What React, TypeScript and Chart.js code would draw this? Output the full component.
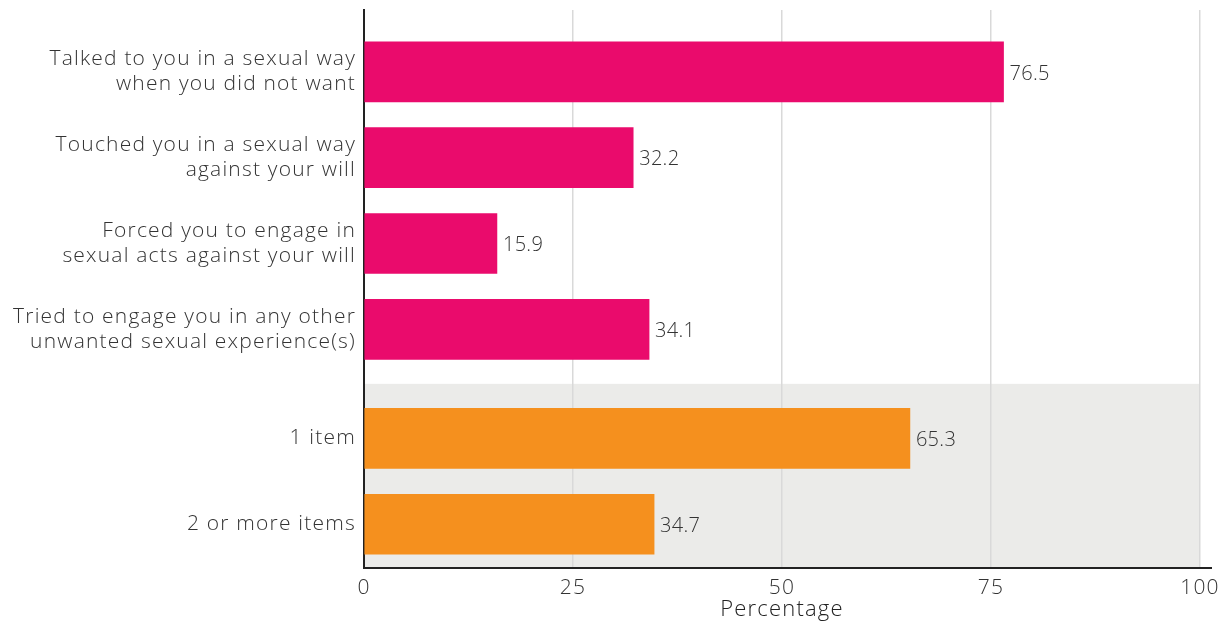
import { useEffect, useRef } from "react";
import { Chart, registerables } from "chart.js";

Chart.register(...registerables);

const categories: string[][] = [
  ["Talked to you in a sexual way", "when you did not want"],
  ["Touched you in a sexual way", "against your will"],
  ["Forced you to engage in", "sexual acts against your will"],
  ["Tried to engage you in any other", "unwanted sexual experience(s)"],
  ["1 item"],
  ["2 or more items"],
];
const values = [76.5, 32.2, 15.9, 34.1, 65.3, 34.7];
const groups = [0, 0, 0, 0, 1, 1];
const groupColors = ["#ea0b6c", "#f5901e"];
const xTicks = [0, 25, 50, 75, 100];
const xTitle = "Percentage";
const GROUP_GAP = 0.27;
const positions = categories.map((_, i) => i + groups[i] * GROUP_GAP);

const FONT = "'Open Sans', sans-serif";
const TEXT = "#333333";

export default function App() {
  const ref = useRef<HTMLCanvasElement | null>(null);

  useEffect(() => {
    if (!ref.current) return;

    const bandPlugin = {
      id: "band",
      beforeDraw(chart: any) {
        const { ctx, chartArea, scales } = chart;
        const firstIdx = groups.indexOf(1);
        const yTop = scales.y.getPixelForValue((positions[firstIdx - 1] + positions[firstIdx]) / 2);
        ctx.save();
        ctx.fillStyle = "#ebebe9";
        ctx.fillRect(chartArea.left, yTop, chartArea.right - chartArea.left, chartArea.bottom - yTop);
        ctx.restore();
        (ctx as any).letterSpacing = "1.2px";
      },
    };

    const labelPlugin = {
      id: "valueLabels",
      afterDatasetsDraw(chart: any) {
        const { ctx } = chart;
        const meta = chart.getDatasetMeta(0);
        ctx.save();
        (ctx as any).letterSpacing = "0.3px";
        ctx.font = `300 20px ${FONT}`;
        ctx.fillStyle = TEXT;
        ctx.textAlign = "left";
        ctx.textBaseline = "middle";
        meta.data.forEach((el: any, i: number) => {
          ctx.fillText(values[i].toFixed(1), el.x + 6, el.y + 2);
        });
        ctx.restore();
      },
      afterDraw(chart: any) {
        const { ctx, chartArea, scales } = chart;
        (ctx as any).letterSpacing = "0px";
        ctx.save();
        ctx.strokeStyle = "#222222";
        ctx.lineWidth = 2;
        ctx.beginPath();
        ctx.moveTo(chartArea.right - 1, scales.x.top);
        ctx.lineTo(chartArea.right + 12, scales.x.top);
        ctx.stroke();
        ctx.restore();
      },
    };

    const chart = new Chart(ref.current, {
      type: "bar",
      data: {
        datasets: [
          {
            data: values.map((v, i) => ({ x: v, y: positions[i] })) as any,
            backgroundColor: groups.map((g) => groupColors[g]),
            barThickness: 60,
            borderWidth: 0,
          },
        ],
      },
      options: {
        indexAxis: "y",
        responsive: false,
        animation: false,
        layout: { padding: { left: 0, top: 10, right: 30, bottom: 0 } },
        plugins: {
          legend: { display: false },
          tooltip: { enabled: false },
        },
        scales: {
          x: {
            type: "linear",
            min: 0,
            max: 100,
            afterBuildTicks: (s: any) => {
              s.ticks = xTicks.map((v) => ({ value: v }));
            },
            afterFit: (s: any) => {
              s.height = 56;
            },
            grid: { color: "#d9d9d9", lineWidth: 1.5, drawTicks: false },
            border: { color: "#222222", width: 2 },
            ticks: { padding: 7, color: TEXT, font: { family: FONT, size: 21, weight: "300" } },
            title: {
              display: true,
              text: xTitle,
              color: "#222222",
              font: { family: FONT, size: 22, weight: "300" },
              padding: { top: 0, bottom: 1 },
            },
          },
          y: {
            type: "linear",
            reverse: true,
            offset: false,
            bounds: "data",
            min: -0.72,
            max: 5.78,
            afterBuildTicks: (s: any) => {
              s.ticks = positions.map((v) => ({ value: v }));
            },
            afterFit: (s: any) => {
              s.width = 364;
              s.paddingTop = 0;
              s.paddingBottom = 0;
            },
            grid: { display: false, drawTicks: false },
            border: { color: "#222222", width: 2 },
            ticks: {
              autoSkip: false,
              padding: 8,
              color: TEXT,
              font: { family: FONT, size: 21, weight: "300", lineHeight: 1.2 },
              callback: (_v: any, index: number) => categories[index] as any,
            },
          },
        },
      },
      plugins: [bandPlugin, labelPlugin],
    });

    return () => chart.destroy();
  }, []);

  return (
    <div style={{ position: "fixed", left: 0, top: 0, width: 1230, height: 624, background: "#fff" }}>
      <canvas ref={ref} width={1230} height={624} style={{ display: "block" }} />
    </div>
  );
}
